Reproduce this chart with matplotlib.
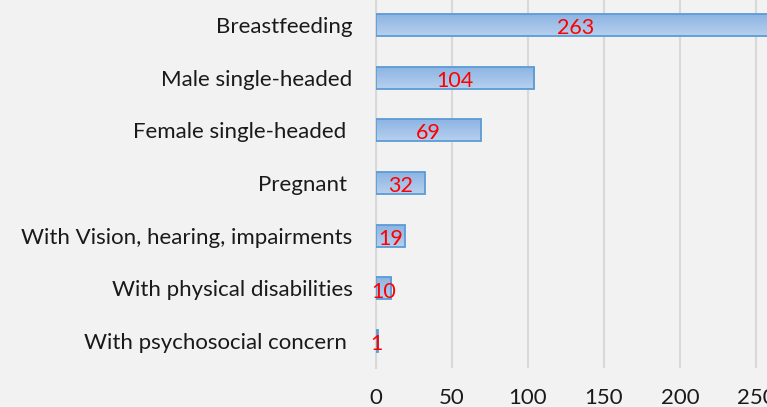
import numpy as np
import matplotlib
matplotlib.use("Agg")
import matplotlib.pyplot as plt

categories = ["Breastfeeding", "Male single-headed", "Female single-headed ", "Pregnant ",
              "With Vision, hearing, impairments", "With physical disabilities",
              "With psychosocial concern "]
counts = [263, 104, 69, 32, 19, 10, 1]
x_ticks = [0, 50, 100, 150, 200, 250, 300]

plt.rcParams['font.family'] = ['Lato', 'DejaVu Sans']

W, H = 767, 407
fig = plt.figure(figsize=(W / 100, H / 100), dpi=100)
fig.patch.set_facecolor('#F2F2F2')
# axes run past the right edge, as in the cropped original
ax = fig.add_axes([376 / W, 1 - 367.5 / H, 456 / W, 369 / H])
ax.set_facecolor('#F2F2F2')

y = np.arange(len(categories))
bars = ax.barh(y, counts, height=0.42, color='none', edgecolor='#5B9BD5', linewidth=1.3, zorder=3)

grad = np.linspace(0, 1, 100).reshape(-1, 1)
cmap = matplotlib.colors.LinearSegmentedColormap.from_list('g', ['#B7D0EE', '#8AB3E2'])
for b in bars:
    x0, y0 = b.get_x(), b.get_y()
    w, h = b.get_width(), b.get_height()
    im = ax.imshow(grad, extent=[x0, x0 + w, y0 + h, y0], aspect='auto', cmap=cmap,
                   origin='lower', zorder=2)
    im.set_clip_path(b)
    ax.text(x0 + w / 2, y0 + h / 2 + 0.06, str(int(w)), color='#FF0000', fontsize=15.5,
            ha='center', va='center', zorder=4)

ax.set_xlim(0, 300)
ax.set_ylim(len(categories) - 0.5, -0.5)
ax.set_xticks(x_ticks)
ax.set_yticks(y)
ax.set_yticklabels(categories)
ax.tick_params(axis='both', length=0, labelsize=16, colors='#1A1A1A')
ax.tick_params(axis='y', pad=17)
ax.tick_params(axis='x', pad=15)
ax.grid(axis='x', color='#D9D9D9', linewidth=1.5, zorder=0)
ax.set_axisbelow(True)
for s in ['top', 'right', 'bottom']:
    ax.spines[s].set_visible(False)
ax.spines['left'].set_color('#D9D9D9')
ax.spines['left'].set_linewidth(1.5)

fig.savefig('out.png', dpi=100, facecolor=fig.get_facecolor())
